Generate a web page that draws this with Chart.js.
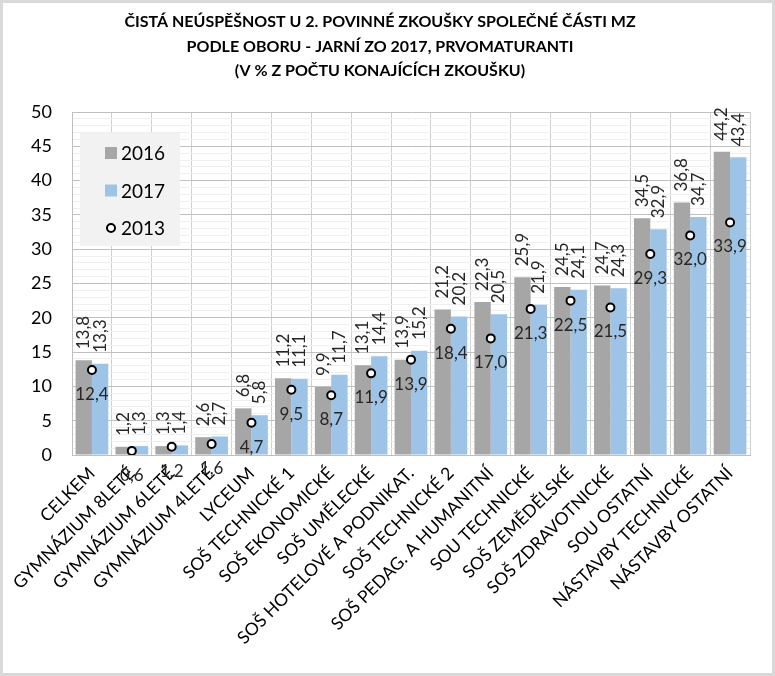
<!DOCTYPE html>
<html>
<head>
<meta charset="utf-8">
<script src="https://cdn.jsdelivr.net/npm/chart.js@4/dist/chart.umd.min.js"></script>
<style>
  body { margin: 0; background: #fff; }
  #wrap { width: 775px; height: 676px; }
</style>
</head>
<body>
<div id="wrap"><canvas id="myChart" width="775" height="676"></canvas></div>
<script>
const titleLines = [
    'ČISTÁ NEÚSPĚŠNOST U 2. POVINNÉ ZKOUŠKY SPOLEČNÉ ČÁSTI MZ',
    'PODLE OBORU - JARNÍ ZO 2017, PRVOMATURANTI',
    '(V % Z POČTU KONAJÍCÍCH ZKOUŠKU)'
];

const labels = ['CELKEM', 'GYMNÁZIUM 8LETÉ', 'GYMNÁZIUM 6LETÉ', 'GYMNÁZIUM 4LETÉ', 'LYCEUM',
    'SOŠ TECHNICKÉ 1', 'SOŠ EKONOMICKÉ', 'SOŠ UMĚLECKÉ', 'SOŠ HOTELOVÉ A PODNIKAT.', 'SOŠ TECHNICKÉ 2',
    'SOŠ PEDAG. A HUMANITNÍ', 'SOU TECHNICKÉ', 'SOŠ ZEMĚDĚLSKÉ', 'SOŠ ZDRAVOTNICKÉ', 'SOU OSTATNÍ',
    'NÁSTAVBY TECHNICKÉ', 'NÁSTAVBY OSTATNÍ'];

const values2016 = [13.8, 1.2, 1.3, 2.6, 6.8, 11.2, 9.9, 13.1, 13.9, 21.2, 22.3, 25.9, 24.5, 24.7, 34.5, 36.8, 44.2];
const values2017 = [13.3, 1.3, 1.4, 2.7, 5.8, 11.1, 11.7, 14.4, 15.2, 20.2, 20.5, 21.9, 24.1, 24.3, 32.9, 34.7, 43.4];
const values2013 = [12.4, 0.6, 1.2, 1.6, 4.7, 9.5, 8.7, 11.9, 13.9, 18.4, 17.0, 21.3, 22.5, 21.5, 29.3, 32.0, 33.9];

const FONT = 'Lato, "Open Sans", sans-serif';

function fmt(v) {
    return v.toFixed(1).replace('.', ',');
}

// background, border, title, legend box
const decoPlugin = {
    id: 'deco',
    beforeDraw(chart) {
        const c = chart.ctx;
        c.save();
        c.fillStyle = '#fff';
        c.fillRect(0, 0, chart.width, chart.height);
        c.strokeStyle = '#d9d9d9';
        c.lineWidth = 3;
        c.strokeRect(1.5, 1.5, chart.width - 3, chart.height - 3);
        c.fillStyle = '#000';
        c.font = 'bold 16px ' + FONT;
        c.textAlign = 'center';
        c.textBaseline = 'middle';
        titleLines.forEach((t, i) => {
            c.fillText(t, 380, 22 + i * 24.5);
        });
        c.restore();
    },
    afterDraw(chart) {
        const c = chart.ctx;
        c.save();
        c.fillStyle = '#f2f2f2';
        c.fillRect(80, 133, 100, 113);
        const order = [0, 1, 2];
        c.font = '19px ' + FONT;
        c.textBaseline = 'middle';
        c.textAlign = 'left';
        order.forEach((di, i) => {
            const ds = chart.data.datasets[di];
            const y = 153 + i * 37.5;
            if (ds.type === 'line') {
                c.beginPath();
                c.arc(111, y, 4, 0, Math.PI * 2);
                c.fillStyle = '#fff';
                c.fill();
                c.lineWidth = 2;
                c.strokeStyle = '#000';
                c.stroke();
            } else {
                c.fillStyle = ds.backgroundColor;
                c.fillRect(105, y - 6, 12, 12);
            }
            c.fillStyle = '#000';
            c.fillText(ds.label, 121, y + 1);
        });
        c.restore();
    }
};

// value labels
const valueLabels = {
    id: 'valueLabels',
    afterDatasetsDraw(chart) {
        const c = chart.ctx;
        c.save();
        c.font = '17px ' + FONT;
        c.fillStyle = '#262626';
        chart.data.datasets.forEach((ds, di) => {
            const meta = chart.getDatasetMeta(di);
            meta.data.forEach((el, i) => {
                const txt = fmt(ds.data[i]);
                if (ds.type === 'line') {
                    c.textAlign = 'center';
                    c.textBaseline = 'top';
                    c.fillText(txt, el.x, el.y + 16);
                } else {
                    c.save();
                    c.translate(el.x, el.y - 11);
                    c.rotate(-Math.PI / 2);
                    c.textAlign = 'left';
                    c.textBaseline = 'middle';
                    c.fillText(txt, 0, 0);
                    c.restore();
                }
            });
        });
        c.restore();
    }
};

const ctx = document.getElementById('myChart').getContext('2d');

const myChart = new Chart(ctx, {
    data: {
        labels: labels,
        datasets: [{
            type: 'bar',
            label: '2016',
            data: values2016,
            backgroundColor: '#a6a6a6',
            categoryPercentage: 0.82,
            barPercentage: 1.0,
            order: 2
        }, {
            type: 'bar',
            label: '2017',
            data: values2017,
            backgroundColor: '#9dc3e6',
            categoryPercentage: 0.82,
            barPercentage: 1.0,
            order: 2
        }, {
            type: 'line',
            label: '2013',
            data: values2013,
            showLine: false,
            pointRadius: 4,
            pointBorderWidth: 2,
            pointBackgroundColor: '#fff',
            pointBorderColor: '#000',
            order: 0
        }]
    },
    plugins: [decoPlugin, valueLabels],
    options: {
        responsive: false,
        animation: false,
        layout: {
            padding: { top: 112, right: 25, bottom: 0, left: 3 }
        },
        plugins: {
            legend: { display: false },
            title: { display: false },
            tooltip: { enabled: false }
        },
        scales: {
            x: {
                offset: true,
                grid: {
                    offset: true,
                    color: '#d0d0d0',
                    drawTicks: false
                },
                border: { color: '#bfbfbf' },
                ticks: {
                    autoSkip: false,
                    minRotation: 45,
                    maxRotation: 45,
                    padding: 8,
                    color: '#000',
                    font: { family: FONT, size: 17.5 }
                },
                afterFit(scale) {
                    scale.height = 221;
                }
            },
            y: {
                min: 0,
                max: 50,
                grid: {
                    color: (c) => (c.tick && c.tick.value % 5 === 0) ? '#c0c0c0' : '#efefef',
                    drawTicks: false
                },
                border: { color: '#bfbfbf' },
                ticks: {
                    stepSize: 1,
                    autoSkip: false,
                    padding: 20,
                    color: '#000',
                    font: { family: FONT, size: 18 },
                    callback: (v) => v % 5 === 0 ? v : ''
                },
                afterFit(scale) {
                    scale.width = 69;
                }
            }
        }
    }
});
</script>
</body>
</html>
